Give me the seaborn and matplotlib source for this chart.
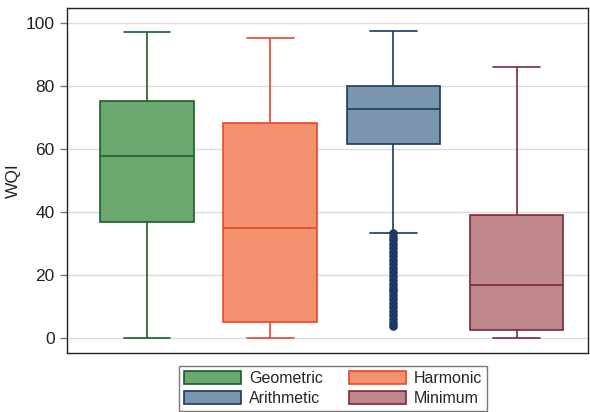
import numpy as np
import pandas as pd
import matplotlib
matplotlib.use("Agg")
import matplotlib.pyplot as plt
from matplotlib.patches import Patch
import seaborn as sns

# ---- data (five-number summaries) ----
categories = ["Geometric", "Harmonic", "Arithmetic", "Minimum"]
geometric = [0.0, 36.8, 57.9, 75.3, 97.2]
harmonic = [0.0, 5.1, 35.0, 68.3, 95.2]
arithmetic = [33.4, 61.5, 72.7, 80.0, 97.5]
minimum = [0.0, 2.4, 16.8, 39.0, 86.0]
arithmetic_outliers = [3.7, 4.8, 6.0, 7.3, 8.5, 9.8, 11.0, 12.3, 13.5, 14.8,
                       16.0, 17.3, 18.5, 19.8, 21.0, 22.3, 23.5, 24.8, 26.0,
                       27.3, 28.5, 29.8, 31.0, 32.2, 33.2]
yticks = [0, 20, 40, 60, 80, 100]

fills = {"Geometric": "#6aa870", "Harmonic": "#f4916f",
         "Arithmetic": "#7b95ad", "Minimum": "#bf868b"}
edges = {"Geometric": "#1b5e2a", "Harmonic": "#e8482a",
         "Arithmetic": "#1a3a63", "Minimum": "#7a2a36"}

series = {"Geometric": geometric, "Harmonic": harmonic,
          "Arithmetic": arithmetic, "Minimum": minimum}
df = pd.DataFrame([(k, v) for k, vals in series.items() for v in vals],
                  columns=["method", "wqi"])
out_df = pd.DataFrame({"method": "Arithmetic", "wqi": arithmetic_outliers})

sns.set_theme(style="white")
plt.rcParams["font.family"] = ["Liberation Sans", "DejaVu Sans"]

fig = plt.figure(figsize=(5.9, 4.12), dpi=100)
ax = fig.add_axes([67 / 590, (412 - 353) / 412, (588 - 67) / 590, (353 - 8) / 412])

for c in categories:
    sub = df[df["method"] == c]
    sns.boxplot(data=sub, x="method", y="wqi", order=categories, ax=ax,
                color=fills[c], linecolor=edges[c], linewidth=1.2,
                width=0.76, whis=np.inf, saturation=1, showfliers=False)

sns.stripplot(data=out_df, x="method", y="wqi", order=categories, ax=ax,
              jitter=False, color=edges["Arithmetic"], size=6.2,
              linewidth=0, zorder=1.5)

ax.set_xlim(-0.65, 3.58)
ax.set_ylim(-4.76, 104.76)
ax.set_yticks(yticks)
ax.set_xticks([])
ax.set_xlabel("")
ax.set_ylabel("WQI", fontsize=12.5, color="#222222", labelpad=3)
ax.yaxis.grid(True, color="#dcdcdc", linewidth=1)
ax.set_axisbelow(True)
ax.tick_params(axis="y", which="major", left=True, length=5, width=1,
               color="#777777", labelsize=12.5, labelcolor="#222222", pad=4)
for s in ax.spines.values():
    s.set_color("#222222")
    s.set_linewidth(1.0)

handles = [Patch(facecolor=fills[c], edgecolor=edges[c], linewidth=1.2, label=c)
           for c in ["Geometric", "Arithmetic", "Harmonic", "Minimum"]]
leg = fig.legend(handles=handles, ncol=2, loc="upper center",
                 bbox_to_anchor=(333 / 590, 1 - 366 / 412), fontsize=11.5,
                 frameon=True, fancybox=False, edgecolor="#555555",
                 handlelength=3.6, handleheight=0.85, columnspacing=1.6,
                 handletextpad=0.5, labelspacing=0.35, borderpad=0.3,
                 borderaxespad=0)
leg.get_frame().set_linewidth(1.0)

fig.savefig("out.png", dpi=100)
